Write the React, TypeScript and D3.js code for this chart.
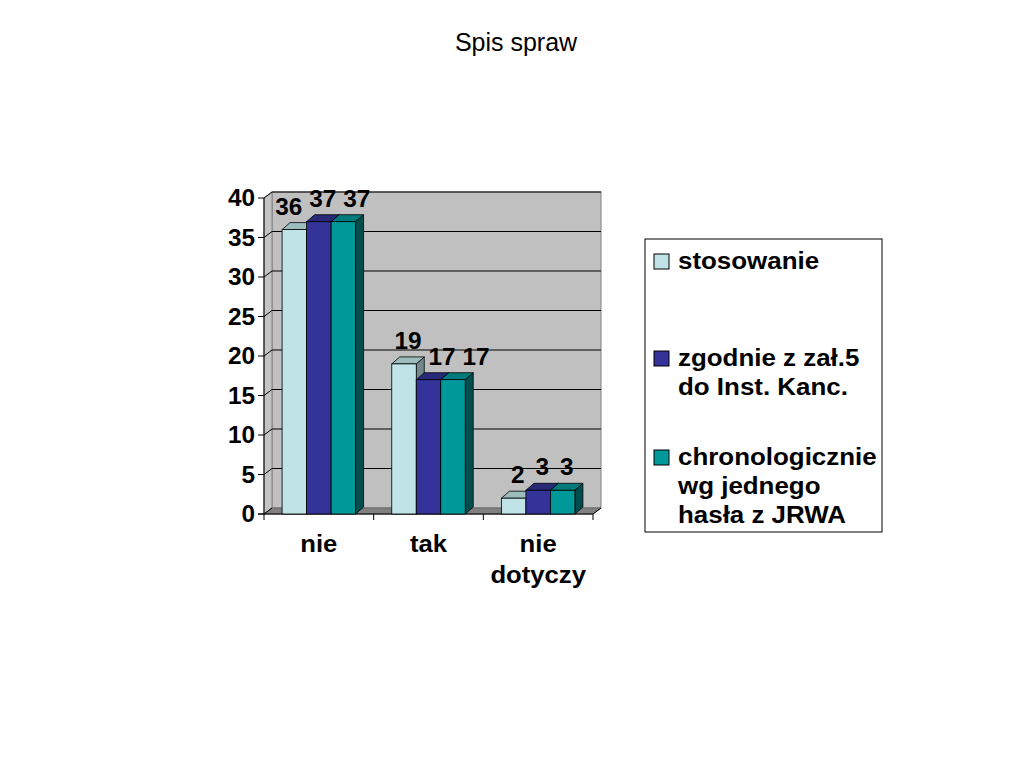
import React from "react";
import * as d3 from "d3";

const categories = ["nie", "tak", "nie dotyczy"];
const seriesNames = ["stosowanie", "zgodnie z zał.5 do Inst. Kanc.", "chronologicznie wg jednego hasła z JRWA"];
const legendLines = [["stosowanie"], ["zgodnie z zał.5", "do Inst. Kanc."], ["chronologicznie", "wg jednego", "hasła z JRWA"]];
const stosowanie = [36, 19, 2];
const zgodnie = [37, 17, 3];
const chronologicznie = [37, 17, 3];
const yTicks = [0, 5, 10, 15, 20, 25, 30, 35, 40];

const series = [stosowanie, zgodnie, chronologicznie];
const colors = [
  { front: "#bfe3e6", top: "#9dbcbd", side: "#738a8c" },
  { front: "#333399", top: "#29297a", side: "#1a1a4d" },
  { front: "#009999", top: "#007a7a", side: "#004d4d" },
];

const W = 1024;
const H = 768;
const left = 264;
const right = 593;
const bottom = 514;
const top = 198;
const WDX = 8; // wall depth
const WDY = 6;
const DX = 8; // bar depth
const DY = 7;

const FONT = "'Liberation Sans', Arial, sans-serif";

// text stretched a bit horizontally, like the original slide
function SText(props: {
  x: number;
  y: number;
  k: number;
  size: number;
  bold?: boolean;
  anchor?: string;
  lines: string[];
  lh?: number;
}) {
  const { x, y, k, size, bold, anchor, lines, lh } = props;
  return (
    <text
      transform={`translate(${x},${y}) scale(${k},1)`}
      textAnchor={anchor || "start"}
      fontFamily={FONT}
      fontWeight={bold ? "bold" : "normal"}
      fontSize={size}
    >
      {lines.map((ln, i) => (
        <tspan key={i} x={0} y={i * (lh || 0)}>
          {ln}
        </tspan>
      ))}
    </text>
  );
}

export default function App() {
  const y = d3.scaleLinear().domain([0, 40]).range([bottom, top]);
  const x0 = d3.scaleBand<string>().domain(categories).range([left, right]).paddingInner(0.33).paddingOuter(0.165);
  const x1 = d3.scaleBand<number>().domain(d3.range(series.length)).range([0, x0.bandwidth()]);
  const bw = x1.bandwidth();

  // label positions: the highest label stays, the others are pushed away from it
  const labelW = (v: number) => String(v).length * 13;
  const labels: { x: number; y: number; t: string }[] = [];
  categories.forEach((c, ci) => {
    const vals = series.map((s) => s[ci]);
    const xs = vals.map((v, si) => x0(c)! + x1(si)! + bw / 2 + DX / 2);
    const anchor = d3.maxIndex(vals);
    for (let i = anchor + 1; i < xs.length; i++) {
      const gap = (labelW(vals[i - 1]) + labelW(vals[i])) / 2 + 8;
      xs[i] = Math.max(xs[i], xs[i - 1] + gap);
    }
    for (let i = anchor - 1; i >= 0; i--) {
      const gap = (labelW(vals[i + 1]) + labelW(vals[i])) / 2 + 8;
      xs[i] = Math.min(xs[i], xs[i + 1] - gap);
    }
    xs.forEach((xv, si) => {
      labels.push({ x: xv, y: y(vals[si]) - DY - 8, t: String(vals[si]) });
    });
  });

  const tickX = [left, ...categories.map((c) => x0(c)! + x0.bandwidth() + (x0.step() - x0.bandwidth()) / 2)];

  return (
    <svg width={W} height={H} style={{ position: "absolute", left: 0, top: 0, background: "#fff" }}>
      <SText x={516} y={51} k={1} size={25} anchor="middle" lines={["Spis spraw"]} />

      {/* back wall */}
      <rect x={left + WDX} y={top - WDY} width={right - left} height={bottom - top} fill="#c0c0c0" stroke="#808080" />
      {/* left wall */}
      <polygon
        points={`${left},${bottom} ${left},${top} ${left + WDX},${top - WDY} ${left + WDX},${bottom - WDY}`}
        fill="#c4c4c4"
        stroke="#808080"
      />
      {/* floor */}
      <polygon
        points={`${left},${bottom} ${right},${bottom} ${right + WDX},${bottom - WDY} ${left + WDX},${bottom - WDY}`}
        fill="#808080"
        stroke="#666"
      />

      {/* gridlines */}
      {yTicks.map((t) => (
        <g key={t}>
          {t > 0 && (
            <line x1={left + WDX} x2={right + WDX} y1={y(t) - WDY} y2={y(t) - WDY} stroke="#000" strokeWidth={1.2} />
          )}
          <line x1={left} x2={left + WDX} y1={y(t)} y2={y(t) - WDY} stroke="#000" strokeWidth={1} />
          <line x1={left - 6} x2={left} y1={y(t)} y2={y(t)} stroke="#000" />
          <SText x={left - 9} y={y(t) + 8} k={1.06} size={23} bold anchor="end" lines={[String(t)]} />
        </g>
      ))}

      {/* axes */}
      <line x1={left} x2={left} y1={top} y2={bottom} stroke="#000" />
      <line x1={left - 6} x2={right} y1={bottom} y2={bottom} stroke="#000" />
      <line x1={right} x2={right + WDX} y1={bottom} y2={bottom - WDY} stroke="#000" />
      {tickX.map((tx, i) => (
        <line key={i} x1={tx} x2={tx} y1={bottom} y2={bottom + 6} stroke="#000" />
      ))}

      {/* bars */}
      {categories.map((c, ci) => (
        <g key={c}>
          {series.map((s, si) => {
            const bx = x0(c)! + x1(si)!;
            const yv = y(s[ci]);
            const col = colors[si];
            return (
              <g key={si} stroke="#000" strokeWidth={0.8}>
                <polygon
                  points={`${bx + bw},${yv} ${bx + bw + DX},${yv - DY} ${bx + bw + DX},${bottom - DY} ${bx + bw},${bottom}`}
                  fill={col.side}
                />
                <polygon
                  points={`${bx},${yv} ${bx + DX},${yv - DY} ${bx + bw + DX},${yv - DY} ${bx + bw},${yv}`}
                  fill={col.top}
                />
                <rect x={bx} y={yv} width={bw} height={bottom - yv} fill={col.front} />
              </g>
            );
          })}
        </g>
      ))}

      {/* value labels */}
      {labels.map((l, i) => (
        <SText key={i} x={l.x} y={l.y} k={1.06} size={23} bold anchor="middle" lines={[l.t]} />
      ))}

      {/* category labels */}
      {categories.map((c) => (
        <SText
          key={c}
          x={x0(c)! + x0.bandwidth() / 2}
          y={552}
          k={1.07}
          size={24}
          bold
          anchor="middle"
          lines={c.split(" ")}
          lh={31}
        />
      ))}

      {/* legend */}
      <rect x={645} y={239} width={237} height={293} fill="#fff" stroke="#000" />
      {seriesNames.map((name, si) => {
        const baseY = [269, 366, 465][si];
        return (
          <g key={name}>
            <rect x={654} y={baseY - 15} width={15} height={15} fill={colors[si].front} stroke="#000" />
            <SText x={678} y={baseY} k={1.08} size={24} bold lines={legendLines[si]} lh={29} />
          </g>
        );
      })}
    </svg>
  );
}
